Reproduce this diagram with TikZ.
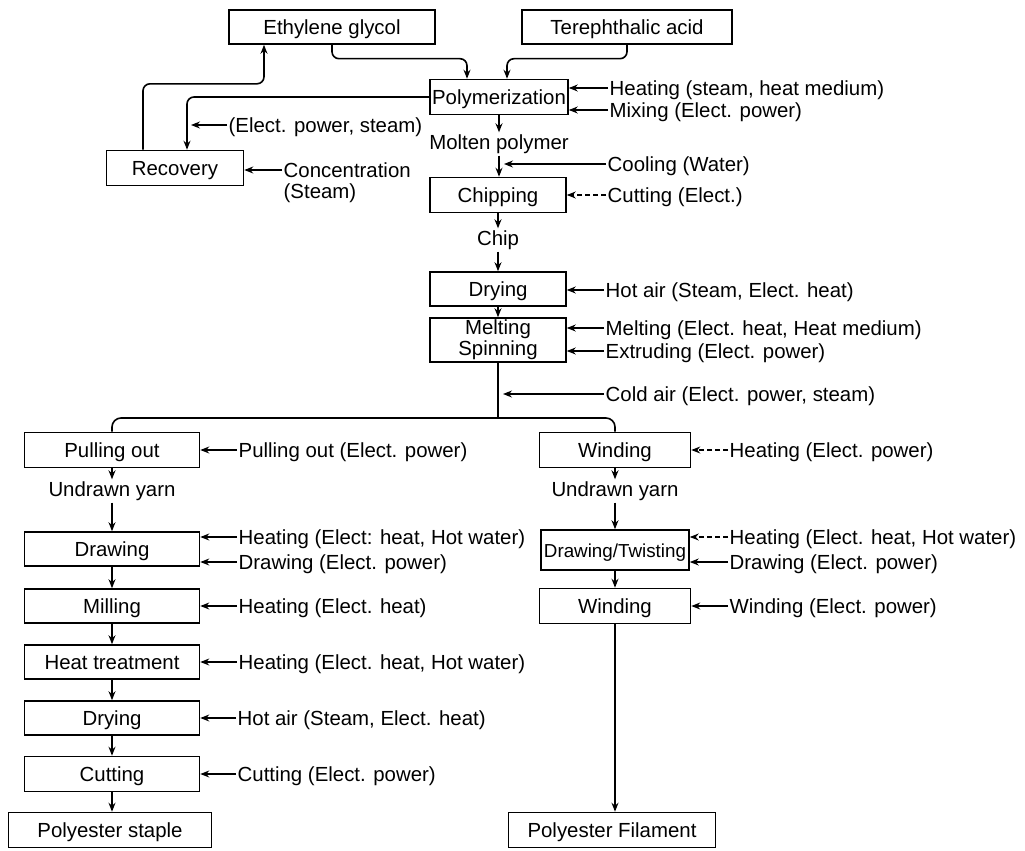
\documentclass[tikz,border=0pt]{standalone}
\usepackage{fontspec}
\setmainfont{Liberation Sans}
\usetikzlibrary{arrows.meta,calc}

\tikzset{
  base/.style={font=\fontsize{20.4}{21}\selectfont},
  frame/.style={base, draw, line width=1.6pt, inner sep=2pt, align=center},
  box/.style={frame, text height=15pt, text depth=0pt},
  lab/.style={base, anchor=west, inner sep=1.5pt, text height=15pt, text depth=0pt},
  mid/.style={base, inner sep=2pt, text height=15pt, text depth=4pt},
  flow/.style={line width=1.6pt, -{Stealth[length=9pt,width=7pt,inset=3pt]}},
  plain/.style={line width=1.6pt},
  feed/.style={line width=1.2pt, -{Stealth[length=9pt,width=7pt,inset=3pt]}},
  dfeed/.style={feed, dash pattern=on 5pt off 3pt},
}

\begin{document}
\begin{tikzpicture}[x=1pt,y=-1pt]
\useasboundingbox (0,0) rectangle (1025,851);

% raw materials and the polymer line
\node[box, minimum width=206pt, minimum height=34pt] (eg)   at (332,27)  {Ethylene glycol};
\node[box, minimum width=210pt, minimum height=34pt] (ta)   at (627,27)  {Terephthalic acid};
\node[box, minimum width=138pt, minimum height=35pt] (poly) at (499,97)  {Polymerization};
\node[box, minimum width=137pt, minimum height=35pt] (rec)  at (175,168) {Recovery};
\node[mid] (molten) at (499,144) {Molten polymer};
\node[box, minimum width=136pt, minimum height=35pt] (chip) at (498,195) {Chipping};
\node[mid] (chiplab) at (498,240) {Chip};
\node[box, minimum width=136pt, minimum height=34pt] (dry1) at (498,289) {Drying};
\node[frame, minimum width=136pt, minimum height=42pt] (melt) at (498,340) {Melting\\Spinning};
\coordinate (split) at (498,418);

% staple branch
\node[box, minimum width=175pt, minimum height=35pt] (pull)  at (112,450) {Pulling out};
\node[mid] (undr1) at (112,491) {Undrawn yarn};
\node[box, minimum width=175pt, minimum height=34pt] (draw1) at (112,549) {Drawing};
\node[box, minimum width=175pt, minimum height=34pt] (mill)  at (112,606) {Milling};
\node[box, minimum width=175pt, minimum height=34pt] (heat)  at (112,662) {Heat treatment};
\node[box, minimum width=175pt, minimum height=34pt] (dry2)  at (112,718) {Drying};
\node[box, minimum width=175pt, minimum height=35pt] (cut)   at (112,774) {Cutting};
\node[box, minimum width=203pt, minimum height=35pt] (staple) at (110,830) {Polyester staple};

% filament branch
\node[box, minimum width=151pt, minimum height=35pt] (wind1) at (615,450) {Winding};
\node[mid] (undr2) at (615,491) {Undrawn yarn};
\node[box, minimum width=148pt, minimum height=40pt, font=\fontsize{18.8}{21}\selectfont] (dt) at (615,550) {Drawing/Twisting};
\node[box, minimum width=151pt, minimum height=35pt] (wind2) at (615,606) {Winding};
\node[box, minimum width=207pt, minimum height=35pt] (fil)   at (612,830) {Polyester Filament};

% utility inputs
\node[lab] (l1)  at (608,88)  {Heating (steam, heat medium)};
\node[lab] (l2)  at (608,110) {Mixing (Elect. power)};
\node[lab] (l3)  at (227,125) {(Elect. power, steam)};
\node[lab] (l4)  at (282,170) {Concentration};
\node[lab] (l4b) at (282,191) {(Steam)};
\node[lab] (l5)  at (606,164) {Cooling (Water)};
\node[lab] (l6)  at (606,195) {Cutting (Elect.)};
\node[lab] (l7)  at (604,290) {Hot air (Steam, Elect. heat)};
\node[lab] (l8)  at (604,328) {Melting (Elect. heat, Heat medium)};
\node[lab] (l9)  at (604,351) {Extruding (Elect. power)};
\node[lab] (l10) at (604,394) {Cold air (Elect. power, steam)};
\node[lab] (l11) at (237,450) {Pulling out (Elect. power)};
\node[lab] (l12) at (237,537) {Heating (Elect: heat, Hot water)};
\node[lab] (l13) at (237,562) {Drawing (Elect. power)};
\node[lab] (l14) at (237,606) {Heating (Elect. heat)};
\node[lab] (l15) at (237,662) {Heating (Elect. heat, Hot water)};
\node[lab] (l16) at (236,718) {Hot air (Steam, Elect. heat)};
\node[lab] (l17) at (236,774) {Cutting (Elect. power)};
\node[lab] (l18) at (728,450) {Heating (Elect. power)};
\node[lab] (l19) at (728,537) {Heating (Elect. heat, Hot water)};
\node[lab] (l20) at (728,562) {Drawing (Elect. power)};
\node[lab] (l21) at (728,606) {Winding (Elect. power)};

% main flow
\draw[flow, rounded corners=7pt] (eg.south) |- ($(poly.north)+(-32,-20)$) -- ($(poly.north)+(-32,0)$);
\draw[flow, rounded corners=7pt] (ta.south) |- ($(poly.north)+(8,-20)$) -- ($(poly.north)+(8,0)$);
\draw[flow, rounded corners=7pt] (poly.west) -| ($(rec.north)+(12,0)$);
\draw[flow, rounded corners=7pt] ($(rec.north)+(-32,0)$) |- ($(eg.south)+(-68,39)$) -- ($(eg.south)+(-68,0)$);
\draw[flow] (poly.south) -- (molten.north);
\draw[flow] (molten.south) -- (molten.south |- chip.north);
\draw[flow] (chip.south) -- (chiplab.north);
\draw[flow] (chiplab.south) -- (dry1.north);
\draw[flow] (dry1.south) -- (melt.north);
\draw[plain] (melt.south) -- (split);
\draw[plain, rounded corners=9pt] (pull.north) |- (split) -| (wind1.north);

\draw[flow] (pull.south) -- (undr1.north);
\draw[flow] (undr1.south) -- (draw1.north);
\draw[flow] (draw1.south) -- (mill.north);
\draw[flow] (mill.south) -- (heat.north);
\draw[flow] (heat.south) -- (dry2.north);
\draw[flow] (dry2.south) -- (cut.north);
\draw[flow] (cut.south) -- (cut.south |- staple.north);

\draw[flow] (wind1.south) -- (undr2.north);
\draw[flow] (undr2.south) -- (dt.north);
\draw[flow] (dt.south) -- (wind2.north);
\draw[flow] (wind2.south) -- (wind2.south |- fil.north);

% utility feeds
\draw[feed] (l1.west) -- (l1.west -| poly.east);
\draw[feed] (l2.west) -- (l2.west -| poly.east);
\draw[feed] (l3.west) -- ($(l3.west -| rec.north)+(16,0)$);
\draw[feed] (l4.west) -- (l4.west -| rec.east);
\draw[feed] (l5.west) -- ($(l5.west -| molten.south)+(5,0)$);
\draw[dfeed] (l6.west) -- (l6.west -| chip.east);
\draw[feed] (l7.west) -- (l7.west -| dry1.east);
\draw[feed] (l8.west) -- (l8.west -| melt.east);
\draw[feed] (l9.west) -- (l9.west -| melt.east);
\draw[feed] (l10.west) -- ($(l10.west -| split)+(5,0)$);
\draw[feed] (l11.west) -- (l11.west -| pull.east);
\draw[feed] (l12.west) -- (l12.west -| draw1.east);
\draw[feed] (l13.west) -- (l13.west -| draw1.east);
\draw[feed] (l14.west) -- (l14.west -| mill.east);
\draw[feed] (l15.west) -- (l15.west -| heat.east);
\draw[feed] (l16.west) -- (l16.west -| dry2.east);
\draw[feed] (l17.west) -- (l17.west -| cut.east);
\draw[dfeed] (l18.west) -- (l18.west -| wind1.east);
\draw[dfeed] (l19.west) -- (l19.west -| dt.east);
\draw[feed] (l20.west) -- (l20.west -| dt.east);
\draw[feed] (l21.west) -- (l21.west -| wind2.east);
\end{tikzpicture}
\end{document}
